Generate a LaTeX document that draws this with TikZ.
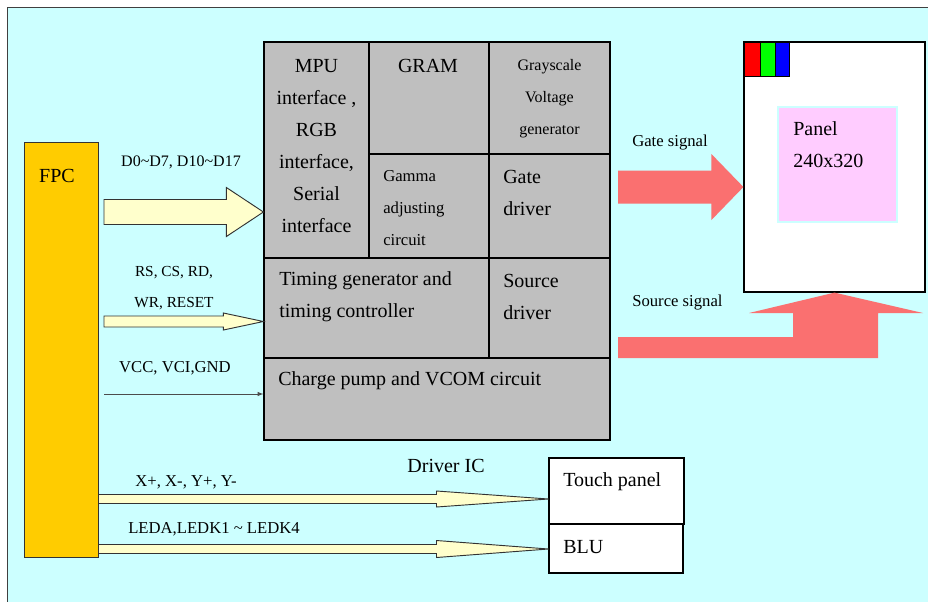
\documentclass[tikz,border=0pt]{standalone}
\usepackage{fontspec}
\setmainfont{Liberation Serif}
\usepackage{xcolor}
\usetikzlibrary{fit,calc}

\definecolor{bgcyan}{RGB}{204,255,255}
\definecolor{fpcyellow}{RGB}{255,204,0}
\definecolor{cellgray}{RGB}{191,191,191}
\definecolor{cream}{RGB}{255,255,204}
\definecolor{salmon}{RGB}{250,112,112}
\definecolor{panelpink}{RGB}{255,204,255}

% block arrow: [style] tail, tip, shaft half width, head half width, head length
\newcommand{\fatarrow}[6][]{%
  \draw[#1] ($(#2)+(0,-#4)$) -- ($(#3)+(-#6,-#4)$) -- ($(#3)+(-#6,-#5)$) -- (#3)
    -- ($(#3)+(-#6,#5)$) -- ($(#3)+(-#6,#4)$) -- ($(#2)+(0,#4)$) -- cycle;}

\begin{document}
\begin{tikzpicture}[x=0.75pt, y=-0.75pt,
    cell/.style={draw=black, line width=0.9pt, fill=cellgray, inner sep=0pt},
    whitebox/.style={draw=black, line width=0.8pt, fill=white, inner sep=0pt},
    creamarrow/.style={fill=cream, draw=black!80, line width=0.7pt},
    txtA/.style={inner sep=0pt, font=\fontsize{15}{24}\selectfont},
    txtB/.style={inner sep=0pt, font=\fontsize{12.5}{24}\selectfont},
    txtC/.style={inner sep=0pt, font=\fontsize{11.5}{23.5}\selectfont}]
  \clip (0,0) rectangle (928,601);
  % background
  \fill[white] (0,0) rectangle (928,601);
  \draw[fill=bgcyan, draw=black!75, line width=0.8pt] (7.5,7.5) rectangle (940,615);
  % FPC connector
  \node[draw=black!80, line width=0.7pt, fill=fpcyellow, inner sep=0pt, fit={(24,142) (98,557)}] (fpc) {};
  \node[txtA] (fpclabel) at (57,176) {FPC};
  % driver IC cells
  \node[cell, fit={(264,42) (369,258)}] (mpu) {};
  \node[cell, fit={(369,42) (489,154)}] (gram) {};
  \node[cell, fit={(489,42) (610,154)}] (gray) {};
  \node[cell, fit={(369,154) (489,258)}] (gamma) {};
  \node[cell, fit={(489,154) (610,258)}] (gate) {};
  \node[cell, fit={(264,258) (489,358)}] (timing) {};
  \node[cell, fit={(489,258) (610,358)}] (source) {};
  \node[cell, fit={(264,358) (610,440)}] (vcom) {};
  \node[txtA, align=center] (mputext) at (316.5,146) {MPU\\interface ,\\RGB\\interface,\\Serial\\interface};
  \node[txtA] (gramtext) at (428,66) {GRAM};
  \node[txtC, font=\fontsize{12}{24}\selectfont, align=center] (graytext) at (549.5,99) {Grayscale\\Voltage\\generator};
  \node[txtB, align=left, anchor=west] (gammatext) at (383,208.5) {Gamma\\adjusting\\circuit};
  \node[txtA, align=left, anchor=west] (gatetext) at (503,193) {Gate\\driver};
  \node[txtA, align=left, anchor=west] (timingtext) at (279,297) {Timing generator and\\timing controller};
  \node[txtA, align=left, anchor=west] (sourcetext) at (503,297) {Source\\driver};
  \node[txtA, anchor=west] (vcomtext) at (278,381) {Charge pump and VCOM circuit};
  \node[txtA] (ictext) at (446,466) {Driver IC};
  % LCD panel
  \node[whitebox, line width=0.9pt, fit={(744,42) (925,292)}] (panel) {};
  \node[draw=black, line width=0.6pt, fill=red, inner sep=0pt, fit={(744,42) (760,76)}] (pixr) {};
  \node[draw=black, line width=0.6pt, fill=green, inner sep=0pt, fit={(760,42) (775,76)}] (pixg) {};
  \node[draw=black, line width=0.6pt, fill=blue, inner sep=0pt, fit={(775,42) (789,76)}] (pixb) {};
  \node[draw=bgcyan, line width=0.8pt, fill=panelpink, inner sep=0pt, fit={(778,107) (897,222)}] (area) {};
  \node[txtA, align=left, anchor=west] (areatext) at (793,144.5) {Panel\\240x320};
  % touch panel and back light
  \node[whitebox, fit={(549,458) (684,524)}] (touch) {};
  \node[whitebox, fit={(549,524) (683,573)}] (blu) {};
  \node[txtA, anchor=west] (touchtext) at (563,482) {Touch panel};
  \node[txtA, anchor=west] (blutext) at (563,547) {BLU};
  % FPC to driver IC
  \coordinate (dS) at (104,212);
  \coordinate (dT) at (mpu.west |- dS);
  \fatarrow[creamarrow]{dS}{dT}{12.5}{24.5}{37}
  \node[txtC, font=\fontsize{12}{24}\selectfont] (dlabel) at (181,162) {D0\textasciitilde D7, D10\textasciitilde D17};
  \coordinate (cS) at (104,321.5);
  \coordinate (cT) at (timing.west |- cS);
  \fatarrow[creamarrow]{cS}{cT}{5.5}{8.5}{40}
  \node[txtC, align=center] (clabel) at (174,288) {RS, CS, RD,\\WR, RESET};
  \coordinate (vS) at (104,394);
  \draw[black!70, line width=0.5pt, -latex] (vS) -- (vcom.west |- vS);
  \node[txtB] (vlabel) at (175,368) {VCC, VCI,GND};
  % FPC to touch panel and BLU
  \coordinate (xS) at (fpc.east |- 0,499);
  \coordinate (xT) at (touch.west |- xS);
  \fatarrow[creamarrow]{xS}{xT}{4.5}{8}{112}
  \node[txtB] (xlabel) at (186,482) {X+, X-, Y+, Y-};
  \coordinate (lS) at (fpc.east |- 0,549);
  \coordinate (lT) at (blu.west |- lS);
  \fatarrow[creamarrow]{lS}{lT}{4.5}{8.5}{112}
  \node[txtB] (llabel) at (214,529) {LEDA,LEDK1 \textasciitilde{} LEDK4};
  % gate and source signals
  \coordinate (gS) at (618,187);
  \coordinate (gT) at (panel.west |- gS);
  \fatarrow[fill=salmon, draw=none]{gS}{gT}{16.5}{33}{32}
  \node[txtB, anchor=west] (glabel) at (632,143) {Gate signal};
  \fill[salmon] (618,337) -- (793,337) -- (793,313) -- (749,313) -- (panel.south)
    -- (923,313) -- (878,313) -- (878,358) -- (618,358) -- cycle;
  \node[txtB, anchor=west] (slabel) at (632,303) {Source signal};
\end{tikzpicture}
\end{document}
